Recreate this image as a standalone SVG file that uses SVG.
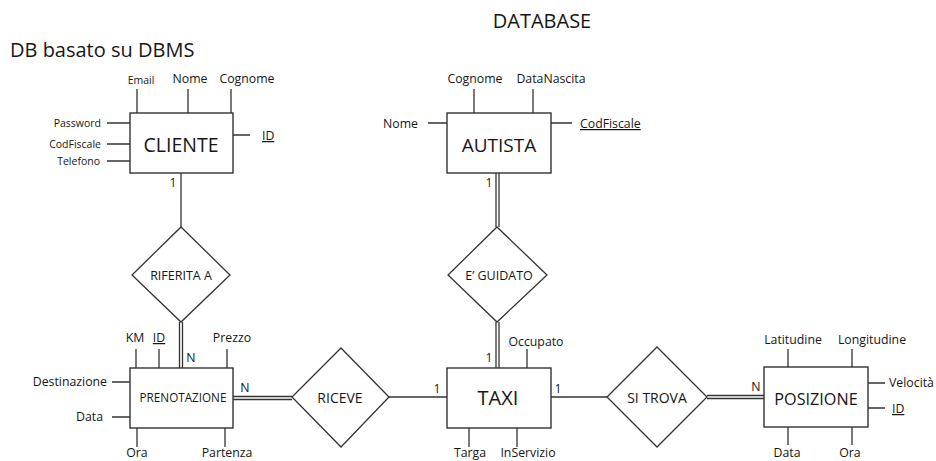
<svg xmlns="http://www.w3.org/2000/svg" width="936" height="461" viewBox="0 0 936 461">
<style>
text{font-family:"Open Sans","Liberation Sans",sans-serif;fill:#161616}
.box{fill:#fff;stroke:#333;stroke-width:1.4}
.dia{fill:#fff;stroke:#333;stroke-width:1.3}
.ln{stroke:#333;stroke-width:1.3;fill:none}
.a{font-size:10.5px}
.b{font-size:12.3px}
.m{text-anchor:middle}
.e{text-anchor:end}
.u{text-decoration:underline}
.t{font-size:20px}
</style>
<rect width="936" height="461" fill="#fff"/>
<text x="542" y="28" class="m" style="font-size:20px">DATABASE</text>
<text x="10" y="57" style="font-size:20px">DB basato su DBMS</text>

<g id="connectors">
<line class="ln" x1="181" y1="173" x2="181" y2="227"/>
<line class="ln" x1="179.5" y1="322" x2="179.5" y2="368"/>
<line class="ln" x1="182.5" y1="322" x2="182.5" y2="368"/>
<line class="ln" x1="496" y1="173" x2="496" y2="227"/>
<line class="ln" x1="499" y1="173" x2="499" y2="227"/>
<line class="ln" x1="496" y1="322" x2="496" y2="368"/>
<line class="ln" x1="499" y1="322" x2="499" y2="368"/>
<line class="ln" x1="233" y1="396.5" x2="292" y2="396.5"/>
<line class="ln" x1="233" y1="399.5" x2="292" y2="399.5"/>
<line class="ln" x1="389" y1="397" x2="447" y2="397"/>
<line class="ln" x1="551" y1="397" x2="607" y2="397"/>
<line class="ln" x1="707" y1="395.5" x2="764" y2="395.5"/>
<line class="ln" x1="707" y1="398.5" x2="764" y2="398.5"/>
<text x="173" y="187" class="b m">1</text>
<text x="489" y="187" class="b m">1</text>
<text x="191" y="362" class="b m">N</text>
<text x="489" y="362" class="b m">1</text>
<text x="245" y="392" class="b m">N</text>
<text x="437" y="393" class="b m">1</text>
<text x="558" y="393" class="b m">1</text>
<text x="756" y="391" class="b m">N</text>
</g>

<g id="cliente">
<rect class="box" x="130" y="113" width="103" height="60"/>
<text x="181" y="152" class="m" style="font-size:19.5px">CLIENTE</text>
<path class="ln" d="M137 89V113M188 89V113M231 89V113M107 123H130M107 144H130M107 161H130M233 135H250"/>
<text x="141" y="84" class="a m">Email</text>
<text x="190" y="83" class="b m">Nome</text>
<text x="247" y="83" class="b m">Cognome</text>
<text x="101" y="127" class="a e">Password</text>
<text x="101" y="147.5" class="a e">CodFiscale</text>
<text x="100" y="165" class="a e">Telefono</text>
<text x="262" y="140" class="b u">ID</text>
</g>

<g id="autista">
<rect class="box" x="447" y="113" width="104" height="60"/>
<text x="499" y="152" class="m" style="font-size:19px">AUTISTA</text>
<path class="ln" d="M474 89V113M533 89V113M428 123H447M551 123H572"/>
<text x="475" y="83" class="b m">Cognome</text>
<text x="551" y="83" class="b m">DataNascita</text>
<text x="418" y="128" class="b e">Nome</text>
<text x="580" y="128" class="b u">CodFiscale</text>
</g>

<g id="riferita">
<polygon class="dia" points="181,227 230,275 181,322 132,275"/>
<text x="181" y="280" class="m" style="font-size:12.5px">RIFERITA A</text>
</g>

<g id="eguidato">
<polygon class="dia" points="497,227 547,275 497,322 448,275"/>
<text x="499" y="280" class="m" style="font-size:12.5px">E’ GUIDATO</text>
</g>

<g id="prenotazione">
<rect class="box" x="130" y="368" width="103" height="60"/>
<text x="183" y="402" class="m" style="font-size:11.7px">PRENOTAZIONE</text>
<path class="ln" d="M136 349V368M159 349V368M227 349V368M112 382H130M112 417H130M137 428V447M225 428V447"/>
<text x="135" y="342" class="b m">KM</text>
<text x="159" y="342" class="b m u">ID</text>
<text x="232" y="342" class="b m">Prezzo</text>
<text x="107" y="386" class="b e">Destinazione</text>
<text x="103" y="421" class="b e">Data</text>
<text x="137" y="457" class="b m">Ora</text>
<text x="227" y="457" class="b m">Partenza</text>
</g>

<g id="riceve">
<polygon class="dia" points="341,348 389,397 341,447 292,397"/>
<text x="340" y="403" class="m" style="font-size:14px">RICEVE</text>
</g>

<g id="taxi">
<rect class="box" x="447" y="368" width="104" height="60"/>
<text x="498" y="405" class="m t">TAXI</text>
<path class="ln" d="M527 349V368M469 428V447M517 428V447"/>
<text x="536" y="346" class="b m">Occupato</text>
<text x="470" y="457" class="b m">Targa</text>
<text x="528" y="457" class="b m">InServizio</text>
</g>

<g id="sitrova">
<polygon class="dia" points="657,347 707,397 657,447 607,397"/>
<text x="657" y="403" class="m" style="font-size:14px">SI TROVA</text>
</g>

<g id="posizione">
<rect class="box" x="764" y="367" width="104" height="60"/>
<text x="816" y="405" class="m" style="font-size:16.2px">POSIZIONE</text>
<path class="ln" d="M788 349V367M852 349V367M868 383H885M868 408H885M788 427V445M852 427V445"/>
<text x="793" y="344" class="b m">Latitudine</text>
<text x="872" y="344" class="b m">Longitudine</text>
<text x="889" y="387" class="b">Velocità</text>
<text x="892" y="413" class="b u">ID</text>
<text x="787" y="457" class="b m">Data</text>
<text x="850" y="457" class="b m">Ora</text>
</g>
</svg>
